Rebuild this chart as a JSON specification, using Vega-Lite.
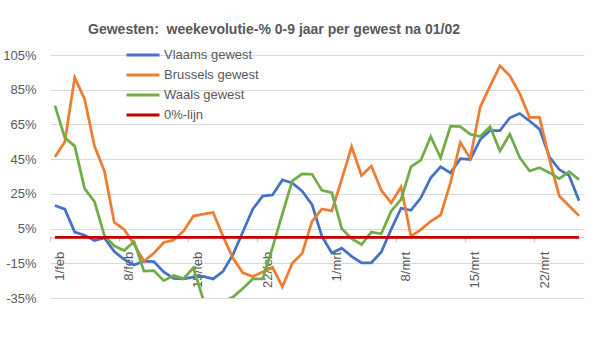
{
  "$schema": "https://vega.github.io/schema/vega-lite/v6.json",
  "width": 534,
  "height": 243,
  "autosize": {"type": "none"},
  "padding": {"left": 50, "top": 55, "right": 15, "bottom": 61},
  "background": "white",
  "config": {"view": {"stroke": null}, "font": "Liberation Sans"},
  "title": {
    "text": "Gewesten:\u00a0 weekevolutie-% 0-9 jaar per gewest na 01/02",
    "font": "Liberation Sans",
    "fontSize": 14,
    "fontWeight": "bold",
    "color": "#595959",
    "anchor": "middle",
    "frame": "group",
    "dx": -43,
    "baseline": "alphabetic",
    "offset": 0
  },
  "data": {
    "values": [
      {"dag": "1/feb", "Vlaams gewest": 18.3, "Brussels gewest": 46.3, "Waals gewest": 75.8, "0%-lijn": 0},
      {"dag": "2/feb", "Vlaams gewest": 16.2, "Brussels gewest": 55.0, "Waals gewest": 57.3, "0%-lijn": 0},
      {"dag": "3/feb", "Vlaams gewest": 3.0, "Brussels gewest": 92.0, "Waals gewest": 52.5, "0%-lijn": 0},
      {"dag": "4/feb", "Vlaams gewest": 1.2, "Brussels gewest": 79.6, "Waals gewest": 28.0, "0%-lijn": 0},
      {"dag": "5/feb", "Vlaams gewest": -1.9, "Brussels gewest": 52.5, "Waals gewest": 20.5, "0%-lijn": 0},
      {"dag": "6/feb", "Vlaams gewest": -0.4, "Brussels gewest": 38.2, "Waals gewest": 1.0, "0%-lijn": 0},
      {"dag": "7/feb", "Vlaams gewest": -8.3, "Brussels gewest": 8.5, "Waals gewest": -5.0, "0%-lijn": 0},
      {"dag": "8/feb", "Vlaams gewest": -12.8, "Brussels gewest": 4.5, "Waals gewest": -7.7, "0%-lijn": 0},
      {"dag": "9/feb", "Vlaams gewest": -16.0, "Brussels gewest": -4.0, "Waals gewest": -2.5, "0%-lijn": 0},
      {"dag": "10/feb", "Vlaams gewest": -13.8, "Brussels gewest": -13.8, "Waals gewest": -19.5, "0%-lijn": 0},
      {"dag": "11/feb", "Vlaams gewest": -14.0, "Brussels gewest": -9.2, "Waals gewest": -19.2, "0%-lijn": 0},
      {"dag": "12/feb", "Vlaams gewest": -20.0, "Brussels gewest": -3.0, "Waals gewest": -25.0, "0%-lijn": 0},
      {"dag": "13/feb", "Vlaams gewest": -23.7, "Brussels gewest": -1.6, "Waals gewest": -22.0, "0%-lijn": 0},
      {"dag": "14/feb", "Vlaams gewest": -24.0, "Brussels gewest": 3.5, "Waals gewest": -23.8, "0%-lijn": 0},
      {"dag": "15/feb", "Vlaams gewest": -23.0, "Brussels gewest": 12.2, "Waals gewest": -17.6, "0%-lijn": 0},
      {"dag": "16/feb", "Vlaams gewest": -22.6, "Brussels gewest": 13.3, "Waals gewest": -36.0, "0%-lijn": 0},
      {"dag": "17/feb", "Vlaams gewest": -24.0, "Brussels gewest": 14.3, "Waals gewest": -39.0, "0%-lijn": 0},
      {"dag": "18/feb", "Vlaams gewest": -19.6, "Brussels gewest": 0.5, "Waals gewest": -37.0, "0%-lijn": 0},
      {"dag": "19/feb", "Vlaams gewest": -10.0, "Brussels gewest": -12.0, "Waals gewest": -34.5, "0%-lijn": 0},
      {"dag": "20/feb", "Vlaams gewest": 3.0, "Brussels gewest": -20.5, "Waals gewest": -29.5, "0%-lijn": 0},
      {"dag": "21/feb", "Vlaams gewest": 16.2, "Brussels gewest": -22.6, "Waals gewest": -24.0, "0%-lijn": 0},
      {"dag": "22/feb", "Vlaams gewest": 23.7, "Brussels gewest": -20.0, "Waals gewest": -24.0, "0%-lijn": 0},
      {"dag": "23/feb", "Vlaams gewest": 24.4, "Brussels gewest": -17.3, "Waals gewest": -6.0, "0%-lijn": 0},
      {"dag": "24/feb", "Vlaams gewest": 33.0, "Brussels gewest": -28.5, "Waals gewest": 13.5, "0%-lijn": 0},
      {"dag": "25/feb", "Vlaams gewest": 31.3, "Brussels gewest": -15.0, "Waals gewest": 32.5, "0%-lijn": 0},
      {"dag": "26/feb", "Vlaams gewest": 26.5, "Brussels gewest": -9.3, "Waals gewest": 36.5, "0%-lijn": 0},
      {"dag": "27/feb", "Vlaams gewest": 18.8, "Brussels gewest": 9.2, "Waals gewest": 36.3, "0%-lijn": 0},
      {"dag": "28/feb", "Vlaams gewest": 0.5, "Brussels gewest": 16.3, "Waals gewest": 27.0, "0%-lijn": 0},
      {"dag": "1/mrt", "Vlaams gewest": -9.0, "Brussels gewest": 15.2, "Waals gewest": 25.7, "0%-lijn": 0},
      {"dag": "2/mrt", "Vlaams gewest": -6.3, "Brussels gewest": 33.3, "Waals gewest": 5.0, "0%-lijn": 0},
      {"dag": "3/mrt", "Vlaams gewest": -11.0, "Brussels gewest": 52.1, "Waals gewest": -0.8, "0%-lijn": 0},
      {"dag": "4/mrt", "Vlaams gewest": -14.7, "Brussels gewest": 35.6, "Waals gewest": -4.2, "0%-lijn": 0},
      {"dag": "5/mrt", "Vlaams gewest": -14.7, "Brussels gewest": 41.0, "Waals gewest": 3.0, "0%-lijn": 0},
      {"dag": "6/mrt", "Vlaams gewest": -8.5, "Brussels gewest": 27.0, "Waals gewest": 2.0, "0%-lijn": 0},
      {"dag": "7/mrt", "Vlaams gewest": 4.5, "Brussels gewest": 19.8, "Waals gewest": 15.0, "0%-lijn": 0},
      {"dag": "8/mrt", "Vlaams gewest": 16.7, "Brussels gewest": 29.0, "Waals gewest": 21.8, "0%-lijn": 0},
      {"dag": "9/mrt", "Vlaams gewest": 15.5, "Brussels gewest": 0.6, "Waals gewest": 40.6, "0%-lijn": 0},
      {"dag": "10/mrt", "Vlaams gewest": 22.7, "Brussels gewest": 4.4, "Waals gewest": 44.4, "0%-lijn": 0},
      {"dag": "11/mrt", "Vlaams gewest": 34.2, "Brussels gewest": 9.2, "Waals gewest": 58.0, "0%-lijn": 0},
      {"dag": "12/mrt", "Vlaams gewest": 40.6, "Brussels gewest": 12.8, "Waals gewest": 45.8, "0%-lijn": 0},
      {"dag": "13/mrt", "Vlaams gewest": 37.1, "Brussels gewest": 31.5, "Waals gewest": 64.0, "0%-lijn": 0},
      {"dag": "14/mrt", "Vlaams gewest": 45.3, "Brussels gewest": 54.6, "Waals gewest": 63.7, "0%-lijn": 0},
      {"dag": "15/mrt", "Vlaams gewest": 44.8, "Brussels gewest": 45.3, "Waals gewest": 59.3, "0%-lijn": 0},
      {"dag": "16/mrt", "Vlaams gewest": 56.3, "Brussels gewest": 75.0, "Waals gewest": 58.0, "0%-lijn": 0},
      {"dag": "17/mrt", "Vlaams gewest": 61.5, "Brussels gewest": 87.1, "Waals gewest": 63.7, "0%-lijn": 0},
      {"dag": "18/mrt", "Vlaams gewest": 61.5, "Brussels gewest": 98.8, "Waals gewest": 49.7, "0%-lijn": 0},
      {"dag": "19/mrt", "Vlaams gewest": 68.8, "Brussels gewest": 93.0, "Waals gewest": 59.3, "0%-lijn": 0},
      {"dag": "20/mrt", "Vlaams gewest": 71.3, "Brussels gewest": 82.8, "Waals gewest": 45.9, "0%-lijn": 0},
      {"dag": "21/mrt", "Vlaams gewest": 67.0, "Brussels gewest": 69.0, "Waals gewest": 38.2, "0%-lijn": 0},
      {"dag": "22/mrt", "Vlaams gewest": 62.3, "Brussels gewest": 69.2, "Waals gewest": 40.1, "0%-lijn": 0},
      {"dag": "23/mrt", "Vlaams gewest": 46.3, "Brussels gewest": 45.0, "Waals gewest": 37.2, "0%-lijn": 0},
      {"dag": "24/mrt", "Vlaams gewest": 39.0, "Brussels gewest": 23.8, "Waals gewest": 33.8, "0%-lijn": 0},
      {"dag": "25/mrt", "Vlaams gewest": 35.5, "Brussels gewest": 18.0, "Waals gewest": 37.8, "0%-lijn": 0},
      {"dag": "26/mrt", "Vlaams gewest": 21.0, "Brussels gewest": 12.3, "Waals gewest": 33.2, "0%-lijn": 0}
    ]
  },
  "transform": [
    {"fold": ["Vlaams gewest", "Brussels gewest", "Waals gewest", "0%-lijn"], "as": ["gewest", "pct"]}
  ],
  "mark": {"type": "line", "clip": true, "strokeWidth": 2.75},
  "encoding": {
    "x": {
      "field": "dag",
      "type": "ordinal",
      "sort": null,
      "bandPosition": 0.5,
      "scale": {"type": "band", "paddingInner": 0, "paddingOuter": 0},
      "axis": {
        "title": null,
        "values": ["1/feb", "8/feb", "15/feb", "22/feb", "1/mrt", "8/mrt", "15/mrt", "22/mrt"],
        "offset": -60.75,
        "bandPosition": 0,
        "labelOffset": 5,
        "labelAngle": 270,
        "labelFont": "Liberation Sans",
        "labelFontSize": 13,
        "labelColor": "#595959",
        "labelPadding": 10,
        "tickSize": 4,
        "tickColor": "#BFBFBF",
        "domainColor": "#BFBFBF",
        "grid": false
      }
    },
    "y": {
      "field": "pct",
      "type": "quantitative",
      "scale": {"domain": [-35, 105], "nice": false, "zero": false},
      "axis": {
        "title": null,
        "values": [-35, -15, 5, 25, 45, 65, 85, 105],
        "labelExpr": "datum.value + '%'",
        "labelFont": "Liberation Sans",
        "labelFontSize": 13,
        "labelColor": "#595959",
        "ticks": false,
        "tickSize": 0,
        "labelPadding": 14,
        "domain": false,
        "grid": true,
        "gridColor": "#D9D9D9",
        "gridWidth": 1
      }
    },
    "color": {
      "field": "gewest",
      "type": "nominal",
      "sort": ["Vlaams gewest", "Brussels gewest", "Waals gewest", "0%-lijn"],
      "scale": {
        "domain": ["Vlaams gewest", "Brussels gewest", "Waals gewest", "0%-lijn"],
        "range": ["#4472C4", "#ED7D31", "#70AD47", "#C00000"]
      },
      "legend": {
        "title": null,
        "orient": "none",
        "legendX": 86,
        "legendY": -7,
        "symbolType": "M-3,0H3",
        "symbolSize": 121,
        "symbolStrokeWidth": 3,
        "rowPadding": 6,
        "labelFont": "Liberation Sans",
        "labelFontSize": 13,
        "labelColor": "#595959",
        "labelOffset": 14
      }
    }
  }
}
